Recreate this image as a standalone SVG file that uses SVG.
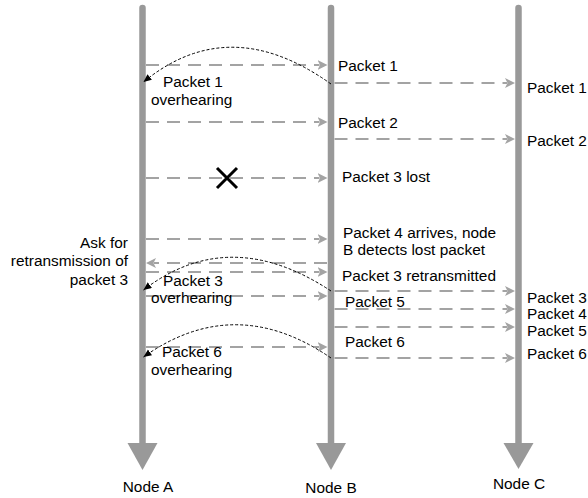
<svg xmlns="http://www.w3.org/2000/svg" width="588" height="498" viewBox="0 0 588 498">
<style>
text{font-family:"Liberation Sans",Arial,sans-serif;font-size:15.4px;fill:#000}
.life{stroke:#999;stroke-width:6.5;stroke-linecap:round;fill:none}
.head{fill:#999}
.msg{stroke:#a3a3a3;stroke-width:2;stroke-dasharray:13 8;fill:none;marker-end:url(#ga)}
.ovh{stroke:#000;stroke-width:1;stroke-dasharray:3 2;fill:none;marker-end:url(#ba)}
.end{text-anchor:end}
.mid{text-anchor:middle}
</style>
<defs>
<marker id="ga" markerUnits="userSpaceOnUse" markerWidth="10" markerHeight="10" refX="2" refY="5" orient="auto">
<path d="M0,0 L10,5 L0,10 L2.5,5 z" fill="#a3a3a3"/>
</marker>
<marker id="ba" markerUnits="userSpaceOnUse" markerWidth="9" markerHeight="8" refX="8" refY="3.5" orient="auto">
<path d="M0,0 L8,3.5 L0,7 z" fill="#000"/>
</marker>
</defs>
<rect width="588" height="498" fill="#fff"/>
<g id="nodeA">
<line class="life" x1="142.5" y1="8" x2="142.5" y2="445"/>
<polygon class="head" points="127.5,443 157.5,443 142.5,470"/>
<text class="mid" x="148" y="492">Node A</text>
</g>
<g id="nodeB">
<line class="life" x1="331" y1="8" x2="331" y2="445"/>
<polygon class="head" points="316,443 346,443 331,470"/>
<text class="mid" x="331" y="492.5">Node B</text>
</g>
<g id="nodeC">
<line class="life" x1="518.5" y1="8" x2="518.5" y2="445"/>
<polygon class="head" points="503.5,443 533.5,443 518.5,469"/>
<text class="mid" x="519" y="489">Node C</text>
</g>
<g id="connectors">
<line class="msg" x1="146" y1="65" x2="319.5" y2="65"/>
<line class="msg" x1="146" y1="122" x2="319.5" y2="122"/>
<line class="msg" x1="146" y1="178" x2="319.5" y2="178"/>
<line class="msg" x1="146" y1="239" x2="319.5" y2="239"/>
<line class="msg" x1="327" y1="263" x2="154" y2="263"/>
<line class="msg" x1="146" y1="272" x2="319.5" y2="272"/>
<line class="msg" x1="146" y1="296" x2="319.5" y2="296"/>
<line class="msg" x1="146" y1="347" x2="319.5" y2="347"/>
<line class="msg" x1="334.5" y1="83" x2="507" y2="83"/>
<line class="msg" x1="334.5" y1="139" x2="507" y2="139"/>
<line class="msg" x1="334.5" y1="291" x2="507" y2="291"/>
<line class="msg" x1="334.5" y1="309" x2="507" y2="309"/>
<line class="msg" x1="334.5" y1="327" x2="507" y2="327"/>
<line class="msg" x1="334.5" y1="358" x2="507" y2="358"/>
<path class="ovh" d="M331,84 Q229.5,11.5 143.5,82"/>
<path class="ovh" d="M331,291 Q229.5,224 143.5,290"/>
<path class="ovh" d="M331,358 Q235,292 143.5,357"/>
<path d="M217,168 L237,188 M237,168 L217,188" stroke="#000" stroke-width="3" fill="none"/>
</g>
<g id="labels">
<text x="338" y="71">Packet 1</text>
<text x="527" y="93">Packet 1</text>
<text x="338" y="128">Packet 2</text>
<text x="527" y="146">Packet 2</text>
<text x="342" y="182">Packet 3 lost</text>
<text x="343" y="237.5">Packet 4 arrives, node</text>
<text x="343" y="255">B detects lost packet</text>
<text x="342" y="281">Packet 3 retransmitted</text>
<text x="345" y="307">Packet 5</text>
<text x="345" y="347">Packet 6</text>
<text x="527" y="302.5">Packet 3</text>
<text x="527" y="319">Packet 4</text>
<text x="527" y="335.5">Packet 5</text>
<text x="527" y="358.5">Packet 6</text>
<text x="163" y="87">Packet 1</text>
<text x="151" y="105">overhearing</text>
<text x="163" y="286">Packet 3</text>
<text x="151" y="303">overhearing</text>
<text x="162" y="357">Packet 6</text>
<text x="151" y="375">overhearing</text>
<text class="end" x="128" y="247.5">Ask for</text>
<text class="end" x="128" y="266">retransmission of</text>
<text class="end" x="128" y="285">packet 3</text>
</g>
</svg>
